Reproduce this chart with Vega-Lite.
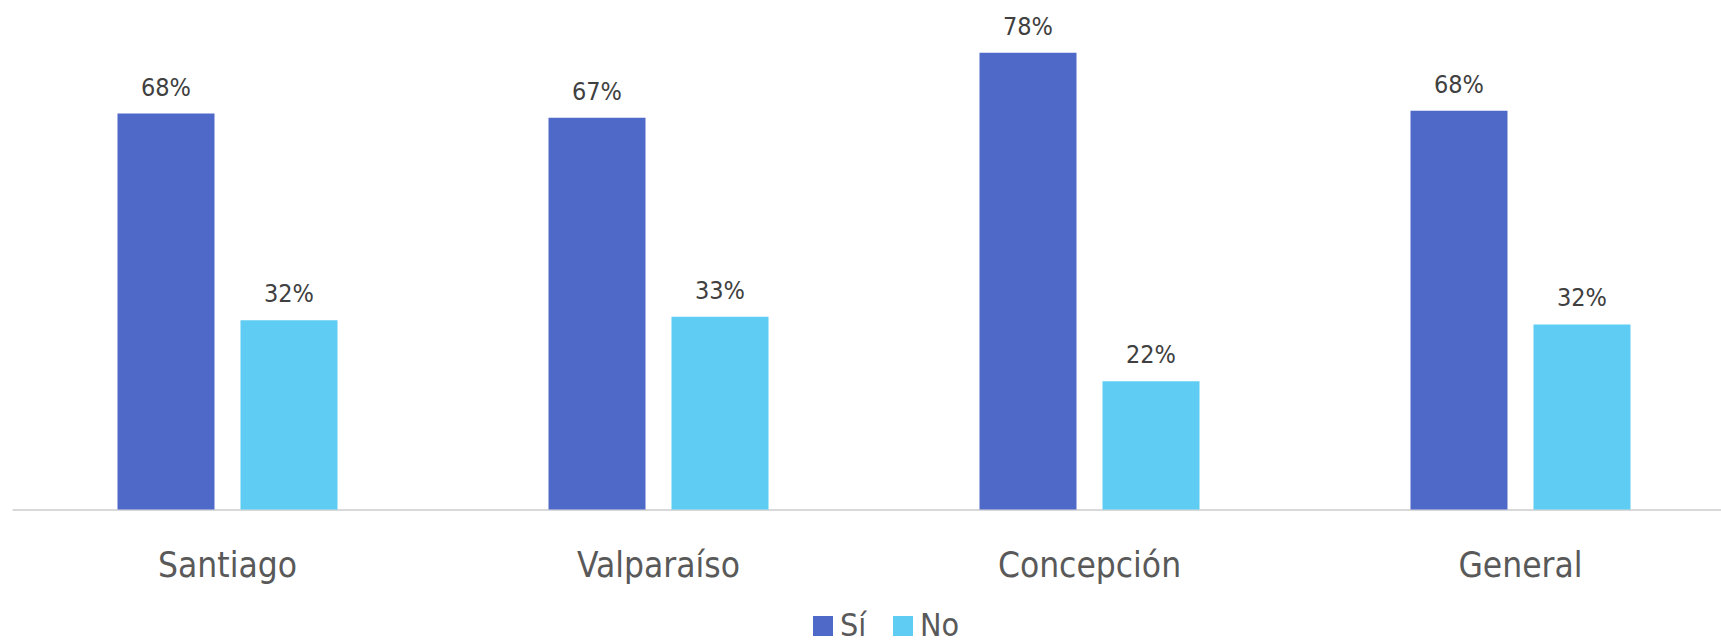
{
  "$schema": "https://vega.github.io/schema/vega-lite/v6.json",
  "autosize": {"type": "none"},
  "padding": {"left": 12, "top": 0, "right": 0, "bottom": 134.5},
  "width": 1724,
  "height": 509.5,
  "background": "white",
  "config": {"view": {"stroke": null}, "font": "DejaVu Sans Condensed, Liberation Sans, sans-serif"},
  "data": {
    "values": [
      {"ciudad": "Santiago", "resp": "Sí", "valor": 67.6, "label": "68%"},
      {"ciudad": "Santiago", "resp": "No", "valor": 32.3, "label": "32%"},
      {"ciudad": "Valparaíso", "resp": "Sí", "valor": 66.9, "label": "67%"},
      {"ciudad": "Valparaíso", "resp": "No", "valor": 32.9, "label": "33%"},
      {"ciudad": "Concepción", "resp": "Sí", "valor": 78.0, "label": "78%"},
      {"ciudad": "Concepción", "resp": "No", "valor": 21.9, "label": "22%"},
      {"ciudad": "General", "resp": "Sí", "valor": 68.1, "label": "68%"},
      {"ciudad": "General", "resp": "No", "valor": 31.6, "label": "32%"}
    ]
  },
  "encoding": {
    "x": {
      "field": "ciudad", "type": "nominal", "sort": null,
      "scale": {"paddingInner": 0, "paddingOuter": 0},
      "axis": {
        "title": null, "ticks": false, "tickSize": 0, "domainColor": "#D9D9D9", "domainWidth": 2,
        "labelAngle": 0, "labelFont": "DejaVu Sans Condensed, Liberation Sans, sans-serif", "labelFontSize": 35,
        "labelColor": "#595959", "labelBaseline": "alphabetic", "labelPadding": 67, "labelLimit": 0
      }
    },
    "xOffset": {
      "field": "resp", "type": "nominal", "sort": ["Sí", "No"],
      "scale": {"paddingInner": 0.2114, "paddingOuter": 0.8577}
    },
    "y": {
      "field": "valor", "type": "quantitative",
      "scale": {"domain": [0, 87], "nice": false},
      "axis": null
    }
  },
  "layer": [
    {
      "mark": {"type": "bar"},
      "encoding": {
        "color": {
          "field": "resp", "type": "nominal", "sort": ["Sí", "No"],
          "scale": {"domain": ["Sí", "No"], "range": ["#4F69C9", "#5FCDF3"]},
          "legend": {
            "title": null, "orient": "none", "direction": "horizontal",
            "legendX": 795, "legendY": 610,
            "symbolType": "square", "symbolSize": 400, "symbolStrokeWidth": 0,
            "labelFont": "DejaVu Sans Condensed, Liberation Sans, sans-serif", "labelFontSize": 32, "labelColor": "#595959",
            "labelOffset": 1, "columnPadding": 20, "padding": 0
          }
        }
      }
    },
    {
      "mark": {"type": "text", "baseline": "alphabetic", "dy": -18, "fontSize": 25, "font": "DejaVu Sans Condensed, Liberation Sans, sans-serif", "color": "#404040"},
      "encoding": {"text": {"field": "label"}}
    }
  ]
}
